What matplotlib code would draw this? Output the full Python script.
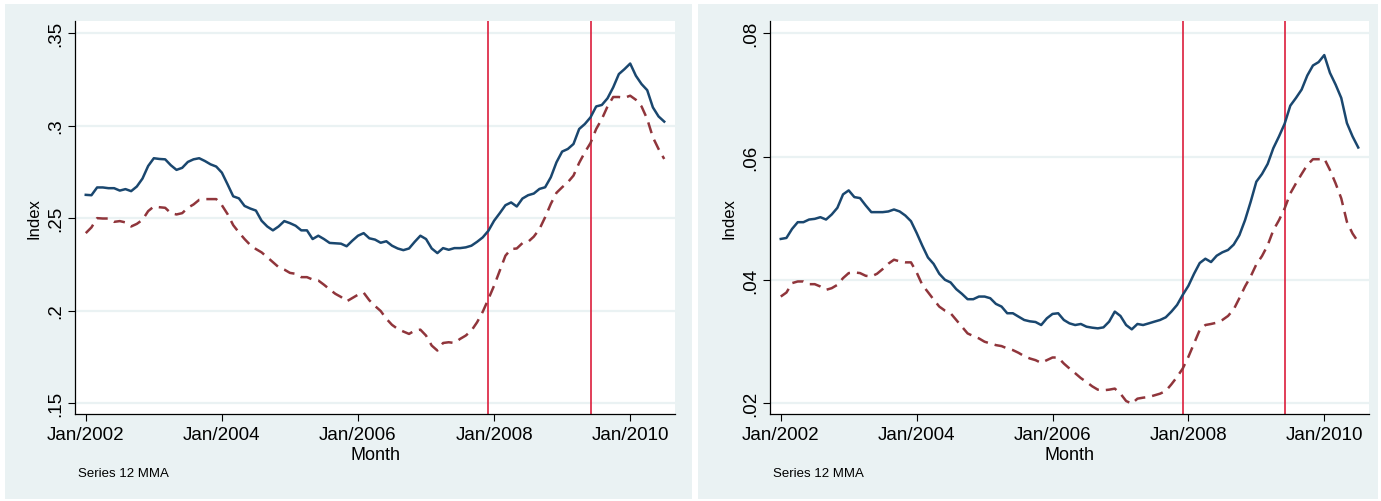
import numpy as np
import pandas as pd
import matplotlib
matplotlib.use("Agg")
import matplotlib.pyplot as plt
from matplotlib.patches import Rectangle

plt.rcParams['font.family'] = ['Liberation Sans', 'DejaVu Sans']

# monthly series, Jan 2002 - Jul 2010 (12-month moving averages)
months = pd.period_range("2002-01", "2010-07", freq="M")

left_solid = [
    0.2626, 0.2624, 0.2666, 0.2666, 0.2662, 0.2662, 0.2649, 0.2657, 0.2646, 0.2671,
    0.2714, 0.2782, 0.2824, 0.2820, 0.2818, 0.2786, 0.2761, 0.2772, 0.2804, 0.2818,
    0.2824, 0.2809, 0.2791, 0.2779, 0.2746, 0.2683, 0.2618, 0.2607, 0.2566, 0.2552,
    0.2541, 0.2486, 0.2455, 0.2434, 0.2455, 0.2484, 0.2473, 0.2459, 0.2434, 0.2434,
    0.2387, 0.2405, 0.2387, 0.2366, 0.2364, 0.2362, 0.2348, 0.2378, 0.2405, 0.2419,
    0.2391, 0.2384, 0.2367, 0.2375, 0.2351, 0.2336, 0.2327, 0.2336, 0.2372, 0.2405,
    0.2387, 0.2336, 0.2311, 0.2338, 0.2329, 0.2338, 0.2338, 0.2342, 0.2351, 0.2372,
    0.2396, 0.2432, 0.2486, 0.2527, 0.2570, 0.2585, 0.2563, 0.2606, 0.2624, 0.2633,
    0.2658, 0.2667, 0.2721, 0.2802, 0.2860, 0.2874, 0.2901, 0.2982, 0.3009, 0.3045,
    0.3104, 0.3112, 0.3148, 0.3207, 0.3279, 0.3306, 0.3336, 0.3270, 0.3225, 0.3192,
    0.3099, 0.3050, 0.3022,
]
left_dashed = [
    0.2419, 0.2450, 0.2500, 0.2498, 0.2498, 0.2480, 0.2484, 0.2477, 0.2455, 0.2469,
    0.2491, 0.2538, 0.2563, 0.2559, 0.2556, 0.2527, 0.2520, 0.2527, 0.2556, 0.2574,
    0.2599, 0.2603, 0.2603, 0.2603, 0.2570, 0.2522, 0.2462, 0.2423, 0.2387, 0.2355,
    0.2333, 0.2315, 0.2289, 0.2262, 0.2235, 0.2222, 0.2204, 0.2199, 0.2181, 0.2181,
    0.2168, 0.2163, 0.2140, 0.2115, 0.2091, 0.2074, 0.2050, 0.2068, 0.2086, 0.2097,
    0.2056, 0.2025, 0.1998, 0.1956, 0.1923, 0.1901, 0.1887, 0.1874, 0.1892, 0.1897,
    0.1865, 0.1811, 0.1784, 0.1825, 0.1829, 0.1825, 0.1847, 0.1865, 0.1892, 0.1937,
    0.1994, 0.2063, 0.2135, 0.2216, 0.2297, 0.2333, 0.2336, 0.2365, 0.2372, 0.2400,
    0.2441, 0.2505, 0.2577, 0.2637, 0.2667, 0.2694, 0.2730, 0.2799, 0.2856, 0.2906,
    0.2982, 0.3036, 0.3104, 0.3155, 0.3155, 0.3151, 0.3162, 0.3140, 0.3104, 0.3036,
    0.2937, 0.2874, 0.2820,
]
right_solid = [
    0.04663, 0.04679, 0.04826, 0.04935, 0.04935, 0.04978, 0.04989, 0.05016, 0.04978, 0.05060,
    0.05168, 0.05386, 0.05451, 0.05342, 0.05326, 0.05207, 0.05098, 0.05098, 0.05098, 0.05109,
    0.05141, 0.05109, 0.05043, 0.04951, 0.04761, 0.04554, 0.04362, 0.04258, 0.04098, 0.04000,
    0.03957, 0.03848, 0.03772, 0.03685, 0.03685, 0.03728, 0.03728, 0.03701, 0.03609, 0.03565,
    0.03457, 0.03457, 0.03402, 0.03348, 0.03326, 0.03315, 0.03266, 0.03375, 0.03446, 0.03457,
    0.03348, 0.03293, 0.03266, 0.03283, 0.03239, 0.03223, 0.03212, 0.03228, 0.03321, 0.03484,
    0.03413, 0.03266, 0.03196, 0.03283, 0.03266, 0.03293, 0.03321, 0.03348, 0.03391, 0.03484,
    0.03592, 0.03755, 0.03902, 0.04098, 0.04272, 0.04342, 0.04288, 0.04391, 0.04446, 0.04484,
    0.04571, 0.04723, 0.04967, 0.05266, 0.05592, 0.05717, 0.05880, 0.06136, 0.06326, 0.06533,
    0.06826, 0.06951, 0.07087, 0.07315, 0.07478, 0.07533, 0.07647, 0.07359, 0.07168, 0.06951,
    0.06543, 0.06326, 0.06147,
]
right_dashed = [
    0.03728, 0.03793, 0.03946, 0.03973, 0.03973, 0.03929, 0.03929, 0.03891, 0.03837, 0.03864,
    0.03918, 0.04027, 0.04109, 0.04120, 0.04109, 0.04065, 0.04054, 0.04098, 0.04174, 0.04261,
    0.04326, 0.04299, 0.04283, 0.04283, 0.04120, 0.03918, 0.03800, 0.03680, 0.03565, 0.03500,
    0.03457, 0.03348, 0.03239, 0.03130, 0.03087, 0.03049, 0.02995, 0.02967, 0.02940, 0.02924,
    0.02886, 0.02859, 0.02815, 0.02761, 0.02723, 0.02696, 0.02652, 0.02696, 0.02739, 0.02739,
    0.02641, 0.02560, 0.02484, 0.02405, 0.02342, 0.02272, 0.02217, 0.02207, 0.02217, 0.02234,
    0.02152, 0.02033, 0.01989, 0.02071, 0.02087, 0.02098, 0.02125, 0.02152, 0.02196, 0.02304,
    0.02424, 0.02560, 0.02750, 0.02967, 0.03185, 0.03266, 0.03283, 0.03304, 0.03348, 0.03413,
    0.03519, 0.03701, 0.03891, 0.04054, 0.04250, 0.04385, 0.04560, 0.04804, 0.04967, 0.05158,
    0.05402, 0.05565, 0.05717, 0.05864, 0.05957, 0.05957, 0.05967, 0.05783, 0.05565, 0.05321,
    0.04940, 0.04750, 0.04614,
]

# recession start / end markers
recession = ["2007-12", "2009-06"]

xtick_months = ["2002-01", "2004-01", "2006-01", "2008-01", "2010-01"]
xtick_labels = ["Jan/2002", "Jan/2004", "Jan/2006", "Jan/2008", "Jan/2010"]

left_yticks = [0.15, 0.20, 0.25, 0.30, 0.35]
left_ylabels = [".15", ".2", ".25", ".3", ".35"]
right_yticks = [0.02, 0.04, 0.06, 0.08]
right_ylabels = [".02", ".04", ".06", ".08"]

BG = "#EAF2F3"
NAVY = "#1A476F"
MAROON = "#90353B"
RED = "#DC1E3C"

W, H = 1381, 502
fig = plt.figure(figsize=(W / 100, H / 100), dpi=100)
fig.patch.set_facecolor("white")

# panel backgrounds, kept behind the axes
for x0, w in ((5, 687), (698, 680)):
    fig.patches.append(Rectangle((x0 / W, 2 / H), w / W, 495 / H, transform=fig.transFigure,
                                 facecolor=BG, edgecolor="none", zorder=-5))

x = np.arange(len(months))
pos = {str(p): i for i, p in enumerate(months)}


def panel(rect, solid, dashed, yticks, ylabels, ylim, note_x):
    ax = fig.add_axes(rect)
    ax.set_zorder(1)
    ax.set_facecolor("white")
    for yt in yticks:
        ax.axhline(yt, color=BG, lw=1.6, zorder=1)
    for r in recession:
        ax.axvline(pos[r], color=RED, lw=1.2, zorder=2)
    ax.plot(x, solid, color=NAVY, lw=1.8, zorder=3, solid_joinstyle="round")
    ax.plot(x, dashed, color=MAROON, lw=1.8, zorder=3, dashes=(4.5, 2.8))
    ax.set_xlim(-1.9, 103.9)
    ax.set_ylim(*ylim)
    ax.set_xticks([pos[m] for m in xtick_months])
    ax.set_xticklabels(xtick_labels, fontsize=13.5)
    ax.set_yticks(yticks)
    ax.set_yticklabels(ylabels, fontsize=13.5, rotation=90, va="center")
    ax.tick_params(axis="both", length=5, width=0.8, color="black", pad=3)
    ax.tick_params(axis="x", pad=4)
    for s in ("top", "right"):
        ax.spines[s].set_visible(False)
    for s in ("left", "bottom"):
        ax.spines[s].set_linewidth(0.9)
    ax.set_xlabel("Month", fontsize=13, labelpad=2)
    ax.set_ylabel("Index", fontsize=12, labelpad=4)
    fig.text(note_x / W, 1 - 474 / H, "Series 12 MMA", fontsize=9.5, va="center",
             family=["Liberation Sans Narrow", "Liberation Sans", "DejaVu Sans"])
    return ax


panel([75 / W, 1 - 415 / H, 600 / W, 393 / H], left_solid, left_dashed,
      left_yticks, left_ylabels, (0.1441, 0.3566), 78)
panel([770 / W, 1 - 415 / H, 599 / W, 393 / H], right_solid, right_dashed,
      right_yticks, right_ylabels, (0.01822, 0.0820), 773)

fig.savefig("out.png", dpi=100, facecolor=fig.get_facecolor())
